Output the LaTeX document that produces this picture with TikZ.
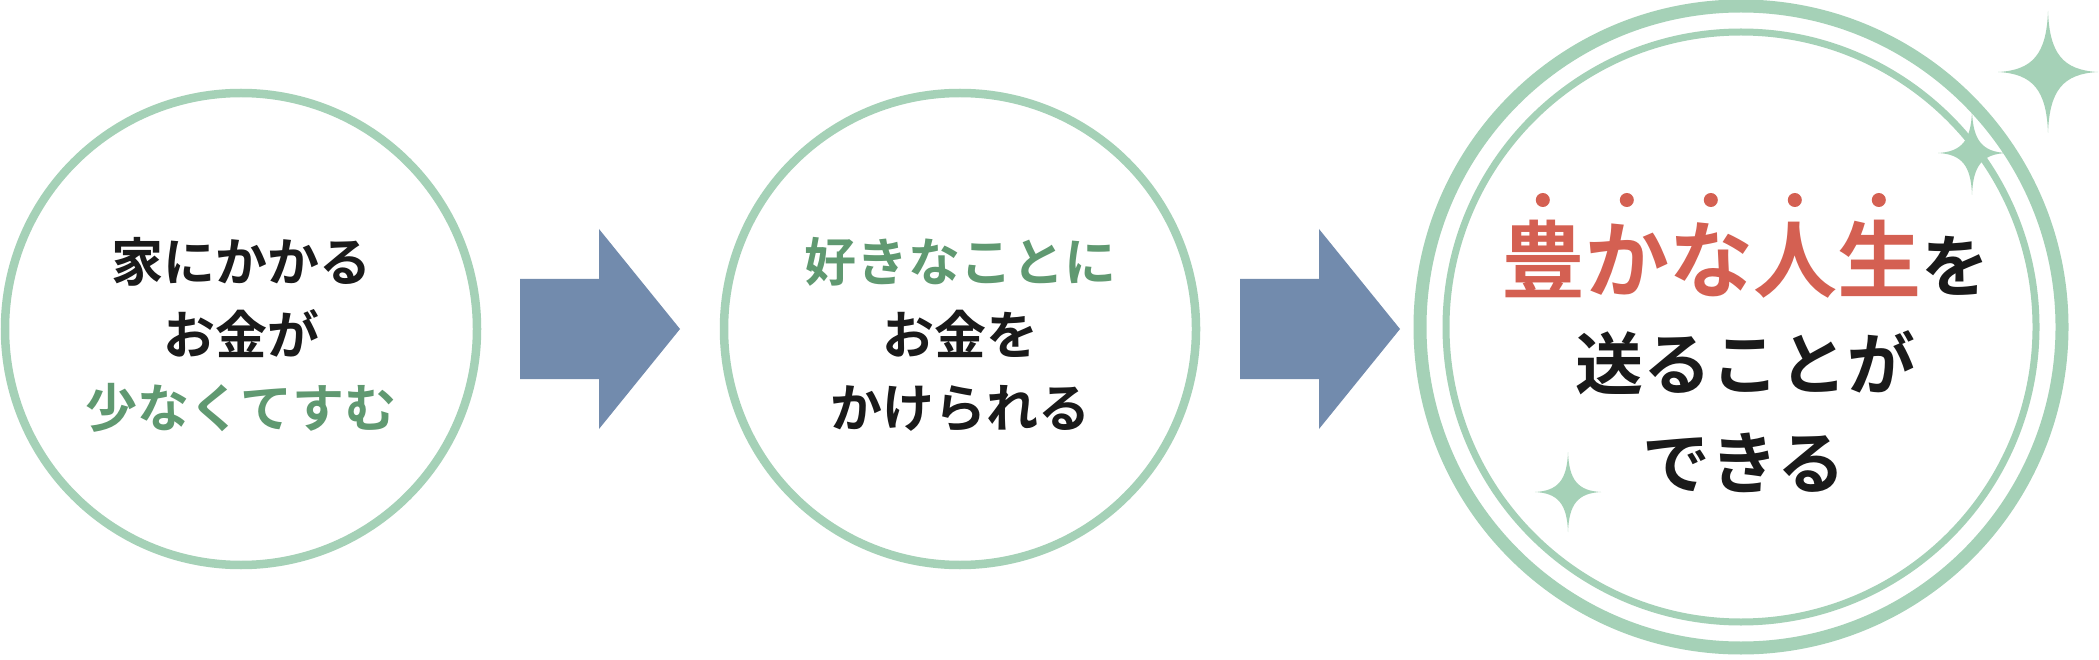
\documentclass[tikz,border=0pt]{standalone}
\usepackage{fontspec}
\usetikzlibrary{calc}
\newfontfamily\jpfont{Noto Sans CJK JP}[BoldFont=* Bold]
\definecolor{ringc}{RGB}{165,209,183}
\definecolor{arrowc}{RGB}{114,139,173}
\definecolor{gtext}{RGB}{96,153,113}
\definecolor{rtext}{RGB}{212,96,82}
\definecolor{ktext}{RGB}{26,26,26}
\tikzset{
  pics/blockarrow/.style={code={
    \fill[arrowc] (0,-50) -- (79,-50) -- (79,-100) -- (160,0) -- (79,100) -- (79,50) -- (0,50) -- cycle;}},
  pics/sparkle/.style 2 args={code={
    \fill[ringc] (0,-#1) .. controls (0.03*#2,-0.3*#1) and (0.3*#2,-0.03*#1) .. (#2,0)
      .. controls (0.3*#2,0.03*#1) and (0.03*#2,0.3*#1) .. (0,#1)
      .. controls (-0.03*#2,0.3*#1) and (-0.3*#2,0.03*#1) .. (-#2,0)
      .. controls (-0.3*#2,-0.03*#1) and (-0.03*#2,-0.3*#1) .. cycle;}}
}
\begin{document}
\begin{tikzpicture}[x=1pt,y=-1pt,
  ring/.style={circle,draw=ringc,line width=8.5pt,inner sep=0pt,minimum size=472pt},
  txt/.style={anchor=base,inner sep=0pt},
  s52/.style={font=\jpfont\bfseries\fontsize{52pt}{52pt}\selectfont},
  s68/.style={font=\jpfont\bfseries\fontsize{68pt}{68pt}\selectfont},
]
\useasboundingbox[fill=white] (0,0) rectangle (2099,660);
% circles
\node[ring] (c1) at (241,329) {};
\node[ring] (c2) at (960,329) {};
\node[circle,draw=ringc,line width=13pt,inner sep=0pt,minimum size=642pt] (c3o) at (1741,327) {};
\node[circle,draw=ringc,line width=7pt,inner sep=0pt,minimum size=590pt] (c3i) at (1741,327) {};
% block arrows
\pic at (520,329) {blockarrow};
\pic at (1240,329) {blockarrow};
% circle 1 text
\node[txt,s52,text=ktext] (t1a) at (241,282) {家にかかる};
\node[txt,s52,text=ktext] (t1b) at (241,355) {お金が};
\node[txt,s52,text=gtext] (t1c) at (241,427) {少なくてすむ};
% circle 2 text
\node[txt,s52,text=gtext] (t2a) at (960,282) {好きなことに};
\node[txt,s52,text=ktext] (t2b) at (960,355) {お金を};
\node[txt,s52,text=ktext] (t2c) at (960,427) {かけられる};
% circle 3 text
\node[txt,font=\jpfont\bfseries] (t3a) at (1745,292)
  {\fontsize{84pt}{84pt}\selectfont\textcolor{rtext}{豊かな人生}\fontsize{68pt}{68pt}\selectfont\textcolor{ktext}{を}};
\node[txt,s68,text=ktext] (t3b) at (1745,389) {送ることが};
\node[txt,s68,text=ktext] (t3c) at (1744,488) {できる};
\foreach \k in {0,...,4}
  \fill[rtext] ($(t3a.base west)+(42+84*\k,-92)$) circle[radius=7];
% sparkles
\pic at (2048,72) {sparkle={61}{50}};
\pic at (1972,153) {sparkle={42}{34}};
\pic at (1568,492) {sparkle={40}{33}};
\end{tikzpicture}
\end{document}
